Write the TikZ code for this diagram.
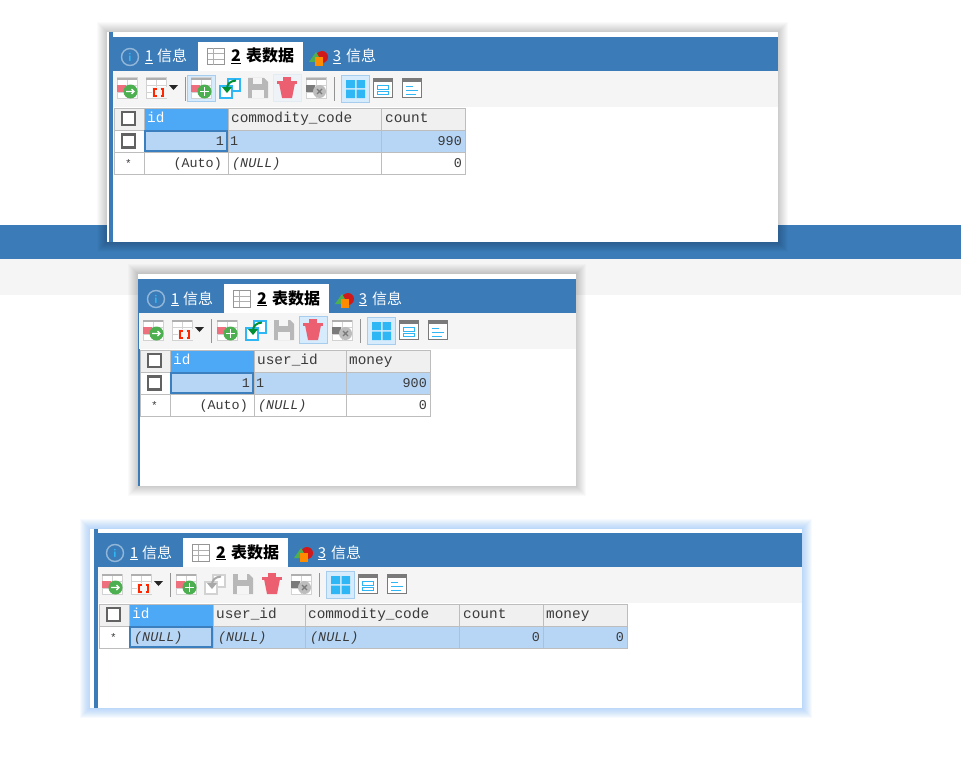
\documentclass[tikz,border=0pt]{standalone}
\usepackage{fontspec}
\setmonofont{Liberation Mono}
\newfontfamily\cjk{Noto Sans CJK SC}
\definecolor{barblue}{HTML}{3B7CB8}
\definecolor{toolgrey}{HTML}{F5F5F5}
\definecolor{gridgrey}{HTML}{BDBDBD}
\definecolor{headgrey}{HTML}{F0F0F0}
\definecolor{headblue}{HTML}{4DA8F6}
\definecolor{rowblue}{HTML}{B7D6F6}
\definecolor{cellblue}{HTML}{3C7FBE}
\definecolor{iconsky}{HTML}{2FB6F4}
\definecolor{hlfill}{HTML}{D6EBFB}
\definecolor{hlline}{HTML}{A6CDEE}
\definecolor{softfill}{HTML}{EEF3F7}
\definecolor{softline}{HTML}{E4ECF3}
\definecolor{iconred}{HTML}{EC5F70}
\definecolor{icongreen}{HTML}{4CB050}
\definecolor{icongrey}{HTML}{7A7A7A}
\definecolor{iconlight}{HTML}{D2D2D2}
\definecolor{savegrey}{HTML}{B8B8B8}
\definecolor{inktext}{HTML}{3A3A3A}
\definecolor{glowblue}{HTML}{6FB0FA}
\tikzset{
  x=1pt,y=-1pt,
  mono/.style={font=\ttfamily\fontsize{13.4}{16}\selectfont,text=inktext,inner sep=0pt,yshift=1pt},
  monoh/.style={font=\ttfamily\fontsize{14.4}{16}\selectfont,text=inktext,inner sep=0pt,yshift=1pt},
  monoi/.style={font=\ttfamily\itshape\fontsize{13.4}{16}\selectfont,text=inktext,inner sep=0pt,yshift=1pt},
  monow/.style={font=\ttfamily\fontsize{14.4}{16}\selectfont,text=white,inner sep=0pt,yshift=1pt},
  staricon/.style={font=\ttfamily\fontsize{11}{12}\selectfont,text=inktext,inner sep=0pt,yshift=1pt},
  tabtext/.style={font=\cjk\fontsize{15}{17}\selectfont,text=white,inner sep=0pt},
  tabactive/.style={font=\cjk\bfseries\fontsize{16}{17}\selectfont,text=black,inner sep=0pt},
  gridcell/.style={draw=gridgrey,line width=1pt},
  checkbox/.style={draw=icongrey!80!black,line width=2.2pt,fill=white},
}
% shadow layers: corners, colour, opacity
\newcommand{\softshadow}[6]{%
  \foreach \g in {10,9,...,1}{%
    \fill[#5,opacity=#6] (#1-\g,#2-\g) rectangle (#3+\g,#4+\g);}%
}
% icon base: pale table
\newcommand{\tablebase}{%
    \fill[white] (0,0) rectangle (20,20);
    \draw[iconlight,line width=1pt] (0,0) rectangle (20,20) (0,7)--(20,7) (10,0)--(10,20) (0,14)--(20,14);
    \fill[icongrey!60!white] (0,0) rectangle (20,2);}
% small grid-with-plus icon
\newcommand{\gridicon}[3]{%
  \begin{scope}[shift={(#1,#2)}]
    \tablebase
    \fill[iconred!90!white] (0,7) rectangle (9,14);
    \fill[icongreen] (13.5,13.5) circle (7);
    \draw[white,line width=1.4pt] #3;
  \end{scope}}
% tab strip and toolbar; frame of the first panel, shifted
\newcommand{\chrome}[9]{%
  % #1 prefix #2 dx #3 dy #4 x-right of bars #5 box3 draw #6 box3 fill #7 undo colour #8 trash draw #9 trash fill
  \begin{scope}[shift={(#2,#3)}]
    \fill[barblue] (113,37) rectangle (#4,71);
    \fill[toolgrey] (113,71) rectangle (#4,107);
    % tab 1
    \draw[white!45!barblue,line width=1.4pt,fill=barblue] (130,57) circle (8.5);
    \node[font=\sffamily\bfseries\fontsize{12}{12}\selectfont,text=iconsky,inner sep=0pt] (#1ii) at (130,57.5) {i};
    \node[tabtext,anchor=base] (#1t1) at (149,62) {\underline{1}};
    \node[tabtext,anchor=base west] (#1t1b) at (157,62) {信息};
    % active tab
    \fill[white] (198,42) rectangle (303,71);
    \draw[icongrey!80!white,line width=1pt,fill=white] (207.5,48.5) rectangle (224,65);
    \draw[icongrey!60!white,line width=1pt] (207.5,54)--(224,54) (207.5,59.5)--(224,59.5) (213,48.5)--(213,65);
    \node[tabactive,anchor=base] (#1t2) at (236,62) {\underline{2}};
    \node[tabactive,anchor=base west] (#1t2b) at (246,62) {表数据};
    % tab 3 icon
    \fill[red!80!black!90!white] (322,57) circle (6);
    \fill[icongreen] (309,62)--(316,52)--(322,62)--cycle;
    \fill[orange!90!yellow] (315,57) rectangle (323,66);
    \node[tabtext,anchor=base] (#1t3) at (337,62) {\underline{3}};
    \node[tabtext,anchor=base west] (#1t3b) at (346,62) {信息};
    % toolbar
    \gridicon{117}{78}{(9,13.5)--(17,13.5) (14.5,11)--(17,13.5)--(14.5,16)}
    \begin{scope}[shift={(146,78)}]
      \tablebase
      \fill[toolgrey] (6,9) rectangle (21,20);
      \draw[red!70!orange,line width=1.2pt] (10.5,11) -- (8,11) -- (8,18) -- (10.5,18) (14.5,11) -- (17,11) -- (17,18) -- (14.5,18);
    \end{scope}
    \fill[black!85] (169,85)--(178,85)--(173.5,90)--cycle;
    \draw[iconlight!70!black,line width=1pt] (185,77)--(185,101);
    \path[draw=#5,fill=#6,line width=1pt] (187.5,75.5) rectangle (215.5,101.5);
    \gridicon{191}{78}{(9,13.5)--(18,13.5) (13.5,9)--(13.5,18)}
    % undo
    \draw[#7,line width=1.4pt,fill=white] (228,79) rectangle (240,91);
    \draw[#7,line width=1.4pt,fill=white] (220,86) rectangle (232,98);
    \draw[undoarrow,line width=2pt] (227,89) .. controls (227,84) and (230,81) .. (236,80.5);
    \fill[undoarrow] (222,87)--(232,87)--(227,93)--cycle;
    % save
    \fill[savegrey] (248,78) -- (264,78) -- (268,82) -- (268,98) -- (248,98) -- cycle;
    \fill[toolgrey] (253,78) rectangle (262,84);
    \fill[toolgrey] (252,90) rectangle (264,98);
    % trash
    \path[draw=#8,fill=#9,line width=1pt] (273.5,74.5) rectangle (301,101.5);
    \fill[iconred] (279,83) -- (295,83) -- (292,98) -- (282,98) -- cycle;
    \fill[iconred] (277,80.5) rectangle (297,84);
    \fill[iconred] (283,77) rectangle (291,81);
    % discard
    \begin{scope}[shift={(306,78)}]
      \tablebase
      \fill[icongrey] (0,7) rectangle (9,14);
      \fill[iconlight!90!black] (13.5,13.5) circle (6.5);
      \draw[icongrey,line width=1.3pt] (11,11)--(16,16) (16,11)--(11,16);
    \end{scope}
    \draw[iconlight!70!black,line width=1pt] (334,77)--(334,101);
    % view buttons
    \path[draw=hlline,fill=hlfill,line width=1pt] (341.5,75.5) rectangle (369,102);
    \fill[iconsky] (346,80) rectangle (355,88) (356.5,80) rectangle (365,88) (346,89.5) rectangle (355,98) (356.5,89.5) rectangle (365,98);
    \draw[icongrey,line width=1pt,fill=white] (373.5,78.5) rectangle (392.5,97.5);
    \fill[icongrey] (373.5,78.5) rectangle (392.5,82);
    \draw[iconsky,line width=1pt] (377.5,85.5) rectangle (388.5,89.5) (377.5,91.5) rectangle (388.5,94.5);
    \draw[icongrey,line width=1pt,fill=white] (402.5,78.5) rectangle (421.5,97.5);
    \fill[icongrey] (402.5,78.5) rectangle (421.5,82);
    \draw[iconsky,line width=1pt] (406,86)--(413,86) (406,90)--(418,90) (406,94)--(416,94);
  \end{scope}}
\newcommand{\cell}[5]{\path[gridcell,fill=#5] (#1,#2) rectangle (#3,#4);}
\newcommand{\chk}[2]{\path[checkbox] (#1-6.5,#2-6.5) rectangle (#1+6.5,#2+6.5);}
\begin{document}
\begin{tikzpicture}
\useasboundingbox (0,0) rectangle (961,784);
\fill[white] (0,0) rectangle (961,784);
% background bands
\fill[barblue] (0,225) rectangle (961,259);
\fill[toolgrey] (0,259) rectangle (961,295);

% ---------- panel 1
\softshadow{107}{32}{778}{242}{black}{0.018}
\fill[white] (107,32) rectangle (778,242);
\fill[barblue] (109,32) rectangle (113,242);
\colorlet{undoarrow}{green!45!black!80!cyan}
\chrome{a}{0}{0}{778}{hlline}{hlfill}{iconsky}{softline}{softfill}
\cell{114}{108}{144}{130}{headgrey}
\cell{144}{108}{228}{130}{headblue}
\cell{228}{108}{381}{130}{headgrey}
\cell{381}{108}{465}{130}{headgrey}
\cell{114}{130}{144}{152}{white}
\cell{144}{130}{228}{152}{rowblue}
\cell{228}{130}{381}{152}{rowblue}
\cell{381}{130}{465}{152}{rowblue}
\cell{114}{152}{144}{174}{white}
\cell{144}{152}{228}{174}{white}
\cell{228}{152}{381}{174}{white}
\cell{381}{152}{465}{174}{white}
\draw[cellblue,line width=1.6pt] (145,131) rectangle (227,151);
\chk{128.5}{118.5}\chk{128.5}{141}
\node[monow,anchor=base west] (a1) at (147,123) {id};
\node[monoh,anchor=base west] (a2) at (231,123) {commodity\_code};
\node[monoh,anchor=base west] (a3) at (385,123) {count};
\node[mono,anchor=base east] (a4) at (224,146) {1};
\node[mono,anchor=base west] (a5) at (230,146) {1};
\node[mono,anchor=base east] (a6) at (462,146) {990};
\node[staricon,anchor=base] (a7) at (128.5,168) {*};
\node[mono,anchor=base east] (a8) at (222,168) {(Auto)};
\node[monoi,anchor=base west] (a9) at (232,168) {(NULL)};
\node[mono,anchor=base east] (a10) at (462,168) {0};

% ---------- panel 2
\softshadow{138}{274}{576}{486}{black}{0.018}
\fill[white] (138,274) rectangle (576,486);
\fill[barblue] (138,279) rectangle (139.5,486);
\chrome{b}{26}{242}{550}{none}{none}{iconsky}{hlline}{hlfill}
\cell{140}{350}{170}{372}{headgrey}
\cell{170}{350}{254}{372}{headblue}
\cell{254}{350}{346}{372}{headgrey}
\cell{346}{350}{430}{372}{headgrey}
\cell{140}{372}{170}{394}{white}
\cell{170}{372}{254}{394}{rowblue}
\cell{254}{372}{346}{394}{rowblue}
\cell{346}{372}{430}{394}{rowblue}
\cell{140}{394}{170}{416}{white}
\cell{170}{394}{254}{416}{white}
\cell{254}{394}{346}{416}{white}
\cell{346}{394}{430}{416}{white}
\draw[cellblue,line width=1.6pt] (171,373) rectangle (253,393);
\chk{154.5}{360.5}\chk{154.5}{383}
\node[monow,anchor=base west] (b1) at (173,365) {id};
\node[monoh,anchor=base west] (b2) at (257,365) {user\_id};
\node[monoh,anchor=base west] (b3) at (349,365) {money};
\node[mono,anchor=base east] (b4) at (250,388) {1};
\node[mono,anchor=base west] (b5) at (256,388) {1};
\node[mono,anchor=base east] (b6) at (427,388) {900};
\node[staricon,anchor=base] (b7) at (154.5,410) {*};
\node[mono,anchor=base east] (b8) at (248,410) {(Auto)};
\node[monoi,anchor=base west] (b9) at (258,410) {(NULL)};
\node[mono,anchor=base east] (b10) at (427,410) {0};

% ---------- panel 3
\softshadow{90}{529}{802}{708}{glowblue}{0.055}
\fill[white] (90,529) rectangle (802,708);
\fill[barblue] (93.5,529) rectangle (98,708);
\colorlet{undoarrow}{iconlight!80!black}
\chrome{c}{-15}{496}{817}{none}{none}{iconlight}{none}{none}
\cell{99}{604}{129}{626}{headgrey}
\cell{129}{604}{213}{626}{headblue}
\cell{213}{604}{305}{626}{headgrey}
\cell{305}{604}{459}{626}{headgrey}
\cell{459}{604}{543}{626}{headgrey}
\cell{543}{604}{627}{626}{headgrey}
\cell{99}{626}{129}{648}{white}
\cell{129}{626}{213}{648}{rowblue}
\cell{213}{626}{305}{648}{rowblue}
\cell{305}{626}{459}{648}{rowblue}
\cell{459}{626}{543}{648}{rowblue}
\cell{543}{626}{627}{648}{rowblue}
\draw[cellblue,line width=1.6pt] (130,627) rectangle (212,647);
\chk{113.5}{614.5}
\node[monow,anchor=base west] (c1) at (132,619) {id};
\node[monoh,anchor=base west] (c2) at (216,619) {user\_id};
\node[monoh,anchor=base west] (c3) at (308,619) {commodity\_code};
\node[monoh,anchor=base west] (c4) at (463,619) {count};
\node[monoh,anchor=base west] (c5) at (546,619) {money};
\node[staricon,anchor=base] (c6) at (113.5,642) {*};
\node[monoi,anchor=base west] (c7) at (134,642) {(NULL)};
\node[monoi,anchor=base west] (c8) at (218,642) {(NULL)};
\node[monoi,anchor=base west] (c9) at (310,642) {(NULL)};
\node[mono,anchor=base east] (c10) at (540,642) {0};
\node[mono,anchor=base east] (c11) at (624,642) {0};
\end{tikzpicture}
\end{document}
